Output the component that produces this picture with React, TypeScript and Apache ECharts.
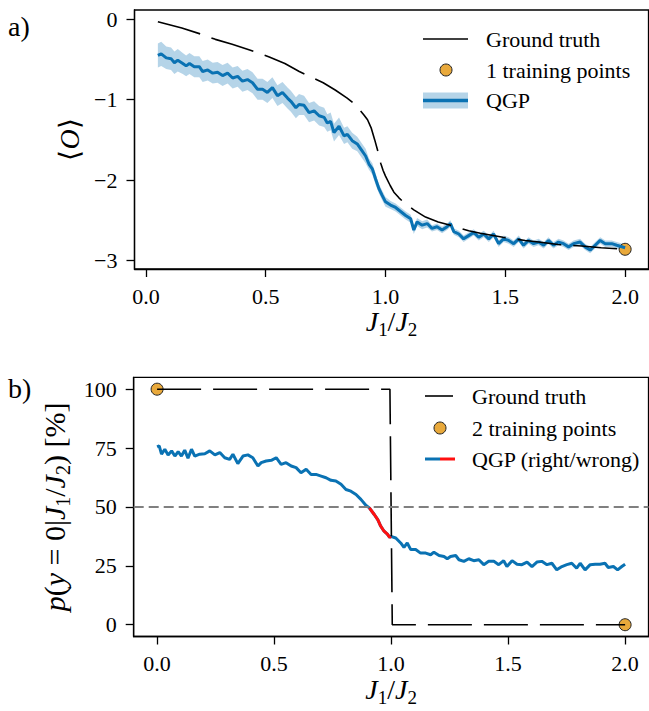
import React, { useEffect, useRef } from "react";
import * as echarts from "echarts";

// ---------- Panel a) data ----------
const topX = [0.050, 0.064, 0.085, 0.105, 0.119, 0.133, 0.154, 0.168, 0.182, 0.202, 0.223, 0.237, 0.258, 0.279, 0.299, 0.320, 0.341, 0.362, 0.383, 0.403, 0.424, 0.445, 0.466, 0.487, 0.507, 0.528, 0.549, 0.570, 0.591, 0.605, 0.626, 0.639, 0.660, 0.681, 0.702, 0.723, 0.744, 0.757, 0.771, 0.785, 0.806, 0.827, 0.841, 0.861, 0.882, 0.903, 0.917, 0.931, 0.945, 0.959, 0.973, 0.986, 1.000, 1.021, 1.042, 1.063, 1.084, 1.105, 1.118, 1.132, 1.153, 1.174, 1.194, 1.215, 1.236, 1.257, 1.271, 1.285, 1.306, 1.326, 1.347, 1.368, 1.389, 1.410, 1.431, 1.451, 1.472, 1.493, 1.514, 1.535, 1.556, 1.576, 1.597, 1.618, 1.639, 1.660, 1.680, 1.701, 1.722, 1.743, 1.764, 1.785, 1.812, 1.833, 1.854, 1.875, 1.896, 1.917, 1.944, 1.965, 2.000];
const topMean = [-0.45, -0.43, -0.48, -0.49, -0.54, -0.51, -0.55, -0.58, -0.55, -0.59, -0.59, -0.65, -0.63, -0.67, -0.66, -0.70, -0.67, -0.73, -0.71, -0.77, -0.75, -0.79, -0.87, -0.87, -0.91, -0.85, -0.95, -0.91, -0.98, -1.02, -1.10, -1.06, -1.07, -1.16, -1.14, -1.20, -1.22, -1.29, -1.27, -1.41, -1.33, -1.45, -1.43, -1.51, -1.55, -1.64, -1.70, -1.80, -1.86, -1.99, -2.11, -2.19, -2.27, -2.31, -2.34, -2.39, -2.44, -2.48, -2.62, -2.52, -2.56, -2.54, -2.60, -2.58, -2.62, -2.58, -2.54, -2.64, -2.67, -2.73, -2.69, -2.65, -2.71, -2.67, -2.73, -2.67, -2.79, -2.73, -2.75, -2.79, -2.73, -2.81, -2.75, -2.79, -2.77, -2.81, -2.75, -2.81, -2.77, -2.79, -2.83, -2.79, -2.77, -2.83, -2.87, -2.81, -2.75, -2.79, -2.79, -2.81, -2.84];
const topStd = [0.15, 0.15, 0.14, 0.14, 0.14, 0.14, 0.13, 0.13, 0.13, 0.13, 0.13, 0.13, 0.13, 0.13, 0.13, 0.13, 0.13, 0.13, 0.13, 0.13, 0.13, 0.13, 0.13, 0.13, 0.13, 0.13, 0.13, 0.13, 0.13, 0.13, 0.13, 0.13, 0.12, 0.12, 0.12, 0.12, 0.12, 0.11, 0.11, 0.11, 0.11, 0.10, 0.10, 0.10, 0.09, 0.09, 0.09, 0.07, 0.07, 0.07, 0.06, 0.06, 0.06, 0.05, 0.05, 0.05, 0.05, 0.05, 0.05, 0.05, 0.05, 0.05, 0.04, 0.04, 0.04, 0.04, 0.04, 0.04, 0.04, 0.04, 0.04, 0.04, 0.04, 0.04, 0.04, 0.04, 0.04, 0.04, 0.04, 0.04, 0.04, 0.04, 0.04, 0.04, 0.04, 0.04, 0.04, 0.04, 0.04, 0.04, 0.04, 0.04, 0.04, 0.04, 0.04, 0.04, 0.04, 0.04, 0.04, 0.04, 0.04];
const gtTopX = [0.05, 0.15, 0.235, 0.29, 0.36, 0.43, 0.47, 0.515, 0.58, 0.64, 0.69, 0.74, 0.79, 0.84, 0.87, 0.89, 0.91, 0.925, 0.94, 0.955, 0.97, 0.98, 0.99, 1.0, 1.02, 1.035, 1.056, 1.077, 1.118, 1.167, 1.22, 1.271, 1.347, 1.396, 1.49, 1.583, 1.639, 1.72, 1.819, 1.9, 2.0];
const gtTopY = [-0.03, -0.11, -0.19, -0.25, -0.31, -0.38, -0.42, -0.47, -0.55, -0.65, -0.72, -0.79, -0.88, -0.98, -1.05, -1.12, -1.19, -1.25, -1.35, -1.5, -1.66, -1.79, -1.88, -1.95, -2.07, -2.15, -2.22, -2.28, -2.37, -2.46, -2.52, -2.56, -2.63, -2.66, -2.71, -2.75, -2.77, -2.8, -2.82, -2.84, -2.86];
const trainTopX = [2.0];
const trainTopY = [-2.86];
const topTicksY = [0, -1, -2, -3];

// ---------- Panel b) data ----------
const botX = [0.000, 0.009, 0.019, 0.033, 0.047, 0.062, 0.076, 0.090, 0.104, 0.118, 0.132, 0.147, 0.161, 0.182, 0.204, 0.225, 0.247, 0.268, 0.289, 0.310, 0.324, 0.345, 0.367, 0.388, 0.409, 0.431, 0.445, 0.466, 0.488, 0.509, 0.530, 0.551, 0.573, 0.594, 0.615, 0.637, 0.658, 0.679, 0.701, 0.722, 0.743, 0.764, 0.786, 0.807, 0.828, 0.850, 0.871, 0.892, 0.907, 0.928, 0.943, 0.956, 0.970, 0.984, 0.994, 0.999, 1.020, 1.041, 1.055, 1.069, 1.084, 1.105, 1.126, 1.148, 1.169, 1.183, 1.205, 1.226, 1.240, 1.254, 1.276, 1.290, 1.311, 1.332, 1.353, 1.375, 1.396, 1.417, 1.439, 1.460, 1.481, 1.495, 1.517, 1.538, 1.559, 1.581, 1.602, 1.623, 1.644, 1.666, 1.687, 1.708, 1.730, 1.751, 1.772, 1.793, 1.808, 1.829, 1.851, 1.872, 1.893, 1.914, 1.928, 1.950, 1.968, 1.986, 2.000];
const botMean = [75.5, 75.9, 72.4, 74.5, 72.1, 73.8, 71.6, 73.5, 71.6, 74.1, 70.7, 74.5, 71.6, 72.4, 72.6, 73.8, 72.1, 73.1, 70.9, 70.2, 72.4, 68.4, 71.6, 72.1, 70.9, 67.4, 68.8, 69.5, 69.8, 70.9, 68.1, 68.8, 67.4, 66.7, 64.5, 66.0, 63.8, 63.8, 63.1, 62.4, 61.3, 61.0, 59.6, 57.4, 56.7, 55.3, 53.2, 50.7, 49.6, 46.8, 44.6, 41.8, 39.7, 38.5, 37.1, 37.5, 36.8, 34.7, 32.8, 34.7, 31.9, 31.9, 30.4, 30.4, 29.7, 30.8, 29.4, 29.0, 28.0, 29.0, 29.4, 27.6, 26.9, 28.0, 27.2, 27.6, 25.5, 26.9, 26.9, 25.5, 27.2, 24.7, 27.2, 25.7, 25.5, 26.6, 24.7, 26.6, 26.9, 25.5, 26.1, 23.3, 24.7, 25.5, 26.1, 24.0, 26.1, 23.3, 25.5, 25.7, 25.7, 26.1, 24.3, 24.7, 23.3, 24.7, 25.7];
const gtBotX = [0, 0.995, 1.005, 2.0];
const gtBotY = [100, 100, 0, 0];
const trainBotX = [0.0, 2.0];
const trainBotY = [100, 0];
const threshold = 50;
const botTicksY = [0, 25, 50, 75, 100];
const ticksX = [0, 0.5, 1.0, 1.5, 2.0];

const BLUE = "#0a72b3";
const BAND = "rgba(10,114,179,0.3)";
const ORANGE = "#e9a93b";
const RED = "#ff1010";
const SERIF = "Liberation Serif";
const TICK_FS = 22;
const LEG_FS = 22;

const zip = (xs: number[], ys: number[]) => xs.map((x, i) => [x, ys[i]]);

const makeRich = (fs: number, sub: number) => ({
  i: { fontFamily: SERIF, fontStyle: "italic", fontSize: fs, lineHeight: fs + 6, verticalAlign: "middle", color: "#000" },
  n: { fontFamily: SERIF, fontSize: fs, lineHeight: fs + 6, verticalAlign: "middle", color: "#000" },
  s: { fontFamily: SERIF, fontSize: sub, lineHeight: sub, verticalAlign: "bottom", color: "#000" },
});

export default function App() {
  const ref = useRef<HTMLDivElement>(null);
  useEffect(() => {
    document.body.style.margin = "0";
    const chart = echarts.init(ref.current!, null, { renderer: "svg" });

    const wrong = botX
      .map((x, i) => [x, botMean[i]])
      .filter(([x, y]) => (x < 1 && y < threshold) || (x > 1 && y > threshold));

    const axisCommon = {
      axisLine: { show: true, onZero: false, lineStyle: { color: "#000", width: 1.3 } },
      axisTick: { show: true, inside: false, length: 8, lineStyle: { color: "#000", width: 1.3 } },
      splitLine: { show: false },
    };

    const xAxisFor = (gridIndex: number, min: number, max: number, gap: number) => ({
      type: "value",
      gridIndex,
      min,
      max,
      ...axisCommon,
      axisTick: { ...axisCommon.axisTick, customValues: ticksX },
      axisLabel: {
        customValues: ticksX,
        formatter: (v: number) => v.toFixed(1),
        fontFamily: SERIF,
        fontSize: TICK_FS,
        color: "#000",
        margin: 16,
      },
      name: "{i|J}{s|1}{n|/}{i|J}{s|2}",
      nameLocation: "middle",
      nameGap: gap,
      nameTextStyle: { rich: makeRich(28, 19) },
    });

    const option = {
      animation: false,
      backgroundColor: "#fff",
      textStyle: { fontFamily: SERIF },
      grid: [
        { left: 134.5, top: 10, width: 514, height: 259, show: true, borderColor: "#000", borderWidth: 1.3, backgroundColor: "transparent" },
        { left: 133.7, top: 377.4, width: 514.8, height: 259.1, show: true, borderColor: "#000", borderWidth: 1.3, backgroundColor: "transparent" },
      ],
      xAxis: [xAxisFor(0, -0.0475, 2.0975, 35), xAxisFor(1, -0.1, 2.1, 36)],
      yAxis: [
        {
          type: "value",
          gridIndex: 0,
          min: -3.105,
          max: 0.115,
          ...axisCommon,
          axisTick: { ...axisCommon.axisTick, customValues: topTicksY },
          axisLabel: {
            customValues: topTicksY,
            formatter: (v: number) => (v < 0 ? "\u2212" + Math.abs(v) : String(v)),
            fontFamily: SERIF,
            fontSize: TICK_FS,
            color: "#000",
            margin: 17,
          },
          name: "{n|\u27E8}{i|O}{n|\u27E9}",
          nameLocation: "middle",
          nameRotate: 90,
          nameGap: 45,
          nameTextStyle: { rich: makeRich(28, 19) },
        },
        {
          type: "value",
          gridIndex: 1,
          min: -5,
          max: 105,
          ...axisCommon,
          axisTick: { ...axisCommon.axisTick, customValues: botTicksY },
          axisLabel: {
            customValues: botTicksY,
            formatter: (v: number) => String(v),
            fontFamily: SERIF,
            fontSize: TICK_FS,
            color: "#000",
            margin: 17,
          },
          name: "{i|p}{n|(}{i|y}{n| = 0|}{i|J}{s|1}{n|/}{i|J}{s|2}{n|) [%]}",
          nameLocation: "middle",
          nameRotate: 90,
          nameGap: 45,
          nameTextStyle: { rich: makeRich(30, 20) },
        },
      ],
      series: [
        {
          type: "custom",
          xAxisIndex: 0,
          yAxisIndex: 0,
          silent: true,
          clip: true,
          data: topX.map((x, i) => [x, topMean[i] - topStd[i], topMean[i] + topStd[i]]),
          encode: { x: 0, y: [1, 2] },
          renderItem: (params: any, api: any) => {
            if (params.dataIndex !== 0) return { type: "group", children: [] };
            const upper = topX.map((x, i) => api.coord([x, topMean[i] + topStd[i]]));
            const lower = topX.map((x, i) => api.coord([x, topMean[i] - topStd[i]])).reverse();
            return {
              type: "polygon",
              shape: { points: upper.concat(lower) },
              style: { fill: BAND, stroke: "none" },
            };
          },
        },
        {
          type: "line",
          xAxisIndex: 0,
          yAxisIndex: 0,
          data: zip(topX, topMean),
          symbol: "none",
          lineStyle: { color: BLUE, width: 3 },
        },
        {
          type: "line",
          xAxisIndex: 0,
          yAxisIndex: 0,
          data: zip(gtTopX, gtTopY),
          symbol: "none",
          smooth: false,
          lineStyle: { color: "#000", width: 1.6, type: [44, 12] },
        },
        {
          type: "scatter",
          xAxisIndex: 0,
          yAxisIndex: 0,
          data: zip(trainTopX, trainTopY),
          symbolSize: 12,
          itemStyle: { color: ORANGE, borderColor: "#222", borderWidth: 1, opacity: 1 },
        },
        {
          type: "line",
          xAxisIndex: 1,
          yAxisIndex: 1,
          data: zip(botX, botMean),
          symbol: "none",
          lineStyle: { color: BLUE, width: 3 },
          markLine: {
            silent: true,
            symbol: "none",
            label: { show: false },
            lineStyle: { color: "#808080", width: 2, type: [10, 5] },
            data: [{ yAxis: threshold }],
          },
        },
        {
          type: "line",
          xAxisIndex: 1,
          yAxisIndex: 1,
          data: wrong,
          symbol: "none",
          lineStyle: { color: RED, width: 3 },
        },
        {
          type: "line",
          xAxisIndex: 1,
          yAxisIndex: 1,
          data: zip(gtBotX, gtBotY),
          symbol: "none",
          lineStyle: { color: "#000", width: 1.6, type: [44, 12] },
        },
        {
          type: "scatter",
          xAxisIndex: 1,
          yAxisIndex: 1,
          data: zip(trainBotX, trainBotY),
          symbolSize: 12,
          itemStyle: { color: ORANGE, borderColor: "#222", borderWidth: 1, opacity: 1 },
        },
      ],
      graphic: [
        { type: "text", x: 8, y: 26, style: { text: "a)", fontFamily: SERIF, fontSize: 28, fill: "#000", verticalAlign: "middle" } },
        { type: "text", x: 8, y: 388, style: { text: "b)", fontFamily: SERIF, fontSize: 28, fill: "#000", verticalAlign: "middle" } },
        // legend a)
        { type: "line", shape: { x1: 423, y1: 39, x2: 468, y2: 39 }, style: { stroke: "#000", lineWidth: 1.6 } },
        { type: "text", x: 486, y: 39, style: { text: "Ground truth", fontFamily: SERIF, fontSize: LEG_FS, fill: "#000", verticalAlign: "middle" } },
        { type: "circle", shape: { cx: 446, cy: 70, r: 6 }, style: { fill: ORANGE, stroke: "#222", lineWidth: 1 } },
        { type: "text", x: 486, y: 70, style: { text: "1 training points", fontFamily: SERIF, fontSize: LEG_FS, fill: "#000", verticalAlign: "middle" } },
        { type: "rect", shape: { x: 423, y: 92.5, width: 45, height: 16 }, style: { fill: BAND } },
        { type: "line", shape: { x1: 423, y1: 100.5, x2: 468, y2: 100.5 }, style: { stroke: BLUE, lineWidth: 3.5 } },
        { type: "text", x: 486, y: 100, style: { text: "QGP", fontFamily: SERIF, fontSize: LEG_FS, fill: "#000", verticalAlign: "middle" } },
        // legend b)
        { type: "line", shape: { x1: 425, y1: 396, x2: 453, y2: 396 }, style: { stroke: "#000", lineWidth: 1.6 } },
        { type: "text", x: 472, y: 396, style: { text: "Ground truth", fontFamily: SERIF, fontSize: LEG_FS, fill: "#000", verticalAlign: "middle" } },
        { type: "circle", shape: { cx: 440, cy: 428, r: 6 }, style: { fill: ORANGE, stroke: "#222", lineWidth: 1 } },
        { type: "text", x: 472, y: 428, style: { text: "2 training points", fontFamily: SERIF, fontSize: LEG_FS, fill: "#000", verticalAlign: "middle" } },
        { type: "line", shape: { x1: 425, y1: 459, x2: 440, y2: 459 }, style: { stroke: BLUE, lineWidth: 3 } },
        { type: "line", shape: { x1: 440, y1: 459, x2: 455, y2: 459 }, style: { stroke: RED, lineWidth: 3 } },
        { type: "text", x: 472, y: 459, style: { text: "QGP (right/wrong)", fontFamily: SERIF, fontSize: LEG_FS, fill: "#000", verticalAlign: "middle" } },
      ],
    };
    chart.setOption(option as any);
    return () => chart.dispose();
  }, []);
  return <div ref={ref} style={{ width: 649, height: 711 }} />;
}
